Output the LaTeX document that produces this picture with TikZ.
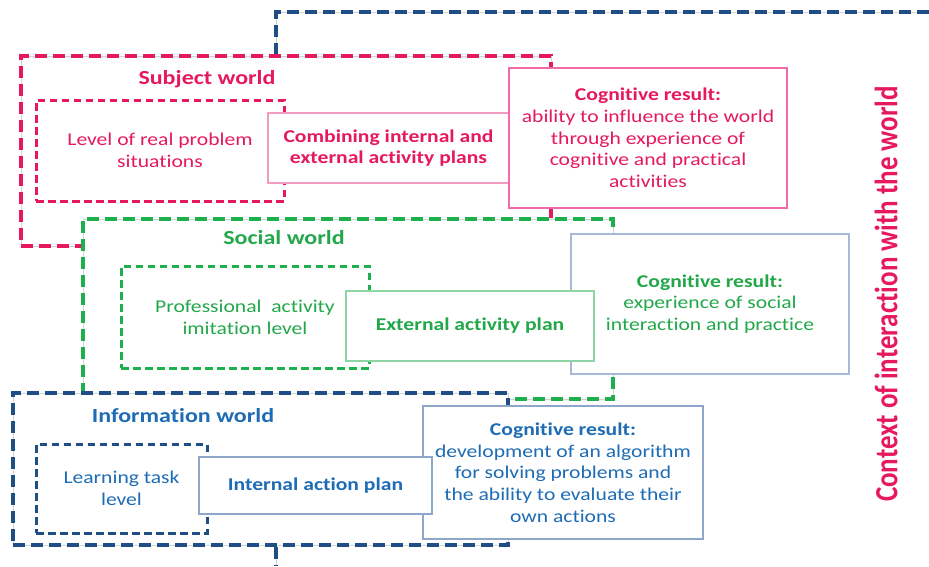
\documentclass[tikz,border=0pt]{standalone}
\usepackage{fontspec}
\usepackage{graphicx}
\setmainfont{Carlito}[FakeStretch=1.2, Ligatures=NoCommon]
\newfontfamily\plainfont{Carlito}[Ligatures=NoCommon]

\definecolor{pinkc}{HTML}{E6195E}
\definecolor{greenc}{HTML}{22A84A}
\definecolor{greendash}{HTML}{1FB04E}
\definecolor{bluetext}{HTML}{1D6CB5}
\definecolor{navydash}{HTML}{1F4E85}
\definecolor{pinkline}{HTML}{F39AC0}
\definecolor{pinkcogline}{HTML}{F06BA8}
\definecolor{greenline}{HTML}{8FD4A5}
\definecolor{greyblue}{HTML}{A9B8D4}
\definecolor{blueline}{HTML}{8EA6C9}

\tikzset{
  worldbox/.style={draw=#1, line width=3.2pt, dash pattern=on 12pt off 6pt,
    preaction={fill=white, draw=gray!35, line width=0.7pt, solid},
    inner sep=0pt, anchor=center},
  levelbox/.style={draw=#1, line width=3pt, dash pattern=on 7.5pt off 4.5pt,
    inner sep=0pt, align=center, anchor=center},
  planbox/.style={draw=#1, fill=white, line width=1.2pt, inner sep=0pt,
    align=center, anchor=center},
  bodytext/.style={font=\fontsize{18}{21.7}\selectfont},
  planbold/.style={font=\fontsize{18}{21.7}\selectfont\bfseries},
  heading/.style={font=\fontsize{20}{24}\selectfont\bfseries, inner sep=0pt},
  ctxline/.style={draw=navydash, line width=3.2pt, dash pattern=on 12pt off 6pt,
    preaction={draw=gray!35, line width=0.7pt, solid}}
}

\begin{document}
\begin{tikzpicture}[x=1pt,y=-1pt]
\useasboundingbox (0,0) rectangle (929,566);

% outer context frame
\coordinate (ctxR) at (929,12);
\coordinate (ctxC) at (276,12);
\coordinate (ctxB) at (276,566);
\path[ctxline] (ctxR) -- (ctxC) -- (ctxB);

% ---- Subject world ----
\node[worldbox=pinkc, minimum width=530pt, minimum height=190pt] (subject) at (286,151) {};
\node[heading, text=pinkc] (subjectT) at (207,79) {Subject world};
\node[levelbox=pinkc, bodytext, text=pinkc, minimum width=248pt, minimum height=101pt]
  (subjectL) at (160,150.5) {Level of real problem\\situations};
\node[planbox=pinkline, planbold, text=pinkc, minimum width=241pt, minimum height=70pt]
  (combine) at (388.5,148) {Combining internal and\\external activity plans};
\node[planbox=pinkcogline, bodytext, text=pinkc, minimum width=278pt, minimum height=140pt]
  (subjectR) at (648,138) {\textbf{Cognitive result:}\\ability to influence the world\\through experience of\\cognitive and practical\\activities};

% ---- Social world ----
\node[worldbox=greendash, minimum width=530pt, minimum height=180pt] (social) at (348,309) {};
\node[heading, text=greenc] (socialT) at (284,238) {Social world};
\node[levelbox=greendash, bodytext, text=greenc, minimum width=248pt, minimum height=102pt]
  (socialL) at (245,317) {Professional\ \ activity\\imitation level};
\node[planbox=greyblue, bodytext, text=greenc, minimum width=278pt, minimum height=140pt]
  (socialR) at (710,304) {\textbf{Cognitive result:}\\experience of social\\interaction and practice};
\node[planbox=greenline, planbold, text=greenc, minimum width=248pt, minimum height=70pt]
  (external) at (470,326) {External activity plan};

% ---- Information world ----
\node[worldbox=navydash, minimum width=495pt, minimum height=152pt] (info) at (260.5,469) {};
\node[heading, text=bluetext] (infoT) at (183,416) {Information world};
\node[levelbox=navydash, bodytext, text=bluetext, minimum width=171pt, minimum height=89pt]
  (infoL) at (121.5,488.5) {Learning task\\level};
\node[planbox=blueline, bodytext, text=bluetext, minimum width=280pt, minimum height=133pt]
  (infoR) at (563,472.5) {\textbf{Cognitive result:}\\development of an algorithm\\for solving problems and\\the ability to evaluate their\\own actions};
\node[planbox=blueline, planbold, text=bluetext, minimum width=233pt, minimum height=57pt]
  (internal) at (315.5,485.5) {Internal action plan};

% side caption
\node[rotate=90, text=pinkc, inner sep=0pt] (context) at (886,294)
  {\scalebox{1}[1.2]{\plainfont\bfseries\fontsize{27}{31}\selectfont Context of interaction with the world}};
\end{tikzpicture}
\end{document}
